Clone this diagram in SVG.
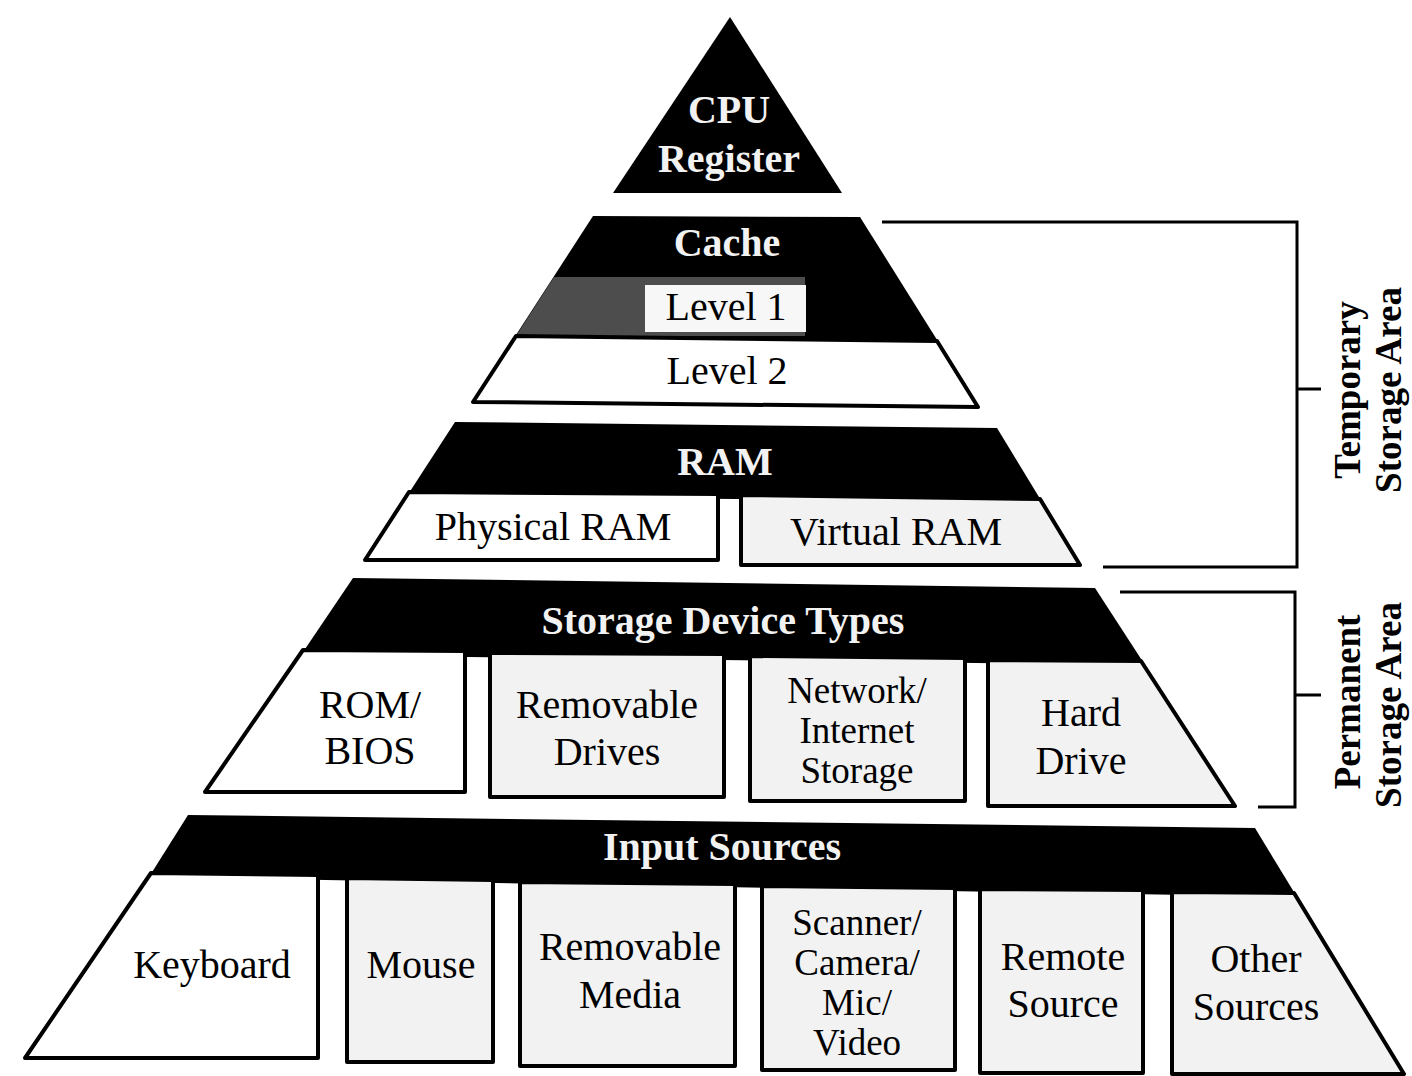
<svg xmlns="http://www.w3.org/2000/svg" width="1412" height="1076" viewBox="0 0 1412 1076">
<style>
.band{fill:#000;}
.box{fill:#fff;stroke:#000;stroke-width:4;stroke-linejoin:round;}
.gbox{fill:#f2f2f2;stroke:#000;stroke-width:4;stroke-linejoin:round;}
.hd{font-family:"Liberation Serif",serif;font-weight:bold;font-size:40px;fill:#f2f2f2;text-anchor:middle;}
.lb{font-family:"Liberation Serif",serif;font-size:40px;fill:#000;text-anchor:middle;}
.lbs{font-family:"Liberation Serif",serif;font-size:37px;fill:#000;text-anchor:middle;}
.side{font-family:"Liberation Serif",serif;font-weight:bold;font-size:37px;fill:#000;text-anchor:middle;}
.br{fill:none;stroke:#000;stroke-width:3;}
</style>
<rect width="1412" height="1076" fill="#fff"/>

<g id="cpu-register">
<polygon class="band" points="730,17 842,193 613,193"/>
<text class="hd" x="729" y="123">CPU</text>
<text class="hd" x="729" y="172">Register</text>
</g>

<g id="cache">
<polygon class="band" points="593,216 860,217 939,343 514,338"/>
<text class="hd" x="727" y="256">Cache</text>
<polygon fill="#4d4d4d" points="554,277 805,277 805,336 516,336"/>
<g id="level-1">
<rect x="645" y="285" width="161" height="47" fill="#f7f7f7"/>
<text class="lb" x="726" y="320">Level 1</text>
</g>
<g id="level-2">
<polygon class="box" points="516,336 937,341 978,407 473,402"/>
<text class="lb" x="727" y="384">Level 2</text>
</g>
</g>

<g id="ram">
<polygon class="band" points="455,422 997,428 1042,502 407,496"/>
<text class="hd" x="725" y="475">RAM</text>
<g id="physical-ram">
<polygon class="box" points="409,492 718,494 718,560 365,560"/>
<text class="lb" x="553" y="540">Physical RAM</text>
</g>
<g id="virtual-ram">
<polygon class="gbox" points="741,495 1040,499 1080,565 741,565"/>
<text class="lb" x="896" y="545">Virtual RAM</text>
</g>
</g>

<g id="storage-device-types">
<polygon class="band" points="353,578 1095,588 1145,665 301,655"/>
<text class="hd" x="723" y="634">Storage Device Types</text>
<g id="rom-bios">
<polygon class="box" points="303,650 465,651 465,792 205,792"/>
<text class="lb" x="370" y="718">ROM/</text>
<text class="lb" x="370" y="764">BIOS</text>
</g>
<g id="removable-drives">
<polygon class="gbox" points="490,653 724,654 724,797 490,797"/>
<text class="lb" x="607" y="718">Removable</text>
<text class="lb" x="607" y="765">Drives</text>
</g>
<g id="network-internet-storage">
<polygon class="gbox" points="750,656 965,658 965,801 750,801"/>
<text class="lbs" x="857" y="703">Network/</text>
<text class="lbs" x="857" y="743">Internet</text>
<text class="lbs" x="857" y="783">Storage</text>
</g>
<g id="hard-drive">
<polygon class="gbox" points="988,660 1141,661 1235,806 988,806"/>
<text class="lb" x="1081" y="726">Hard</text>
<text class="lb" x="1081" y="774">Drive</text>
</g>
</g>

<g id="input-sources">
<polygon class="band" points="188,815 1255,828 1297,897 149,877"/>
<text class="hd" x="722" y="860">Input Sources</text>
<g id="keyboard">
<polygon class="box" points="151,873 318,875 318,1058 25,1058"/>
<text class="lb" x="212" y="978">Keyboard</text>
</g>
<g id="mouse">
<polygon class="gbox" points="347,878 493,880 493,1062 347,1062"/>
<text class="lb" x="421" y="978">Mouse</text>
</g>
<g id="removable-media">
<polygon class="gbox" points="520,882 735,884 735,1066 520,1066"/>
<text class="lb" x="630" y="960">Removable</text>
<text class="lb" x="630" y="1008">Media</text>
</g>
<g id="scanner-camera-mic-video">
<polygon class="gbox" points="762,886 955,888 955,1070 762,1070"/>
<text class="lbs" x="857" y="935">Scanner/</text>
<text class="lbs" x="857" y="975">Camera/</text>
<text class="lbs" x="857" y="1015">Mic/</text>
<text class="lbs" x="857" y="1055">Video</text>
</g>
<g id="remote-source">
<polygon class="gbox" points="980,889 1143,890 1143,1073 980,1073"/>
<text class="lb" x="1063" y="970">Remote</text>
<text class="lb" x="1063" y="1017">Source</text>
</g>
<g id="other-sources">
<polygon class="gbox" points="1172,892 1294,893 1404,1074 1172,1074"/>
<text class="lb" x="1256" y="972">Other</text>
<text class="lb" x="1256" y="1020">Sources</text>
</g>
</g>

<g id="connectors">
<polyline class="br" points="882,222 1297,222 1297,567 1103,567"/>
<line class="br" x1="1297" y1="389" x2="1321" y2="389"/>
<polyline class="br" points="1120,592 1295,592 1295,807 1258,807"/>
<line class="br" x1="1295" y1="695" x2="1321" y2="695"/>
</g>

<g id="temporary-storage-area">
<text class="side" transform="translate(1360,390) rotate(-90)">Temporary</text>
<text class="side" transform="translate(1401,390) rotate(-90)">Storage Area</text>
</g>
<g id="permanent-storage-area">
<text class="side" transform="translate(1360,702) rotate(-90)">Permanent</text>
<text class="side" transform="translate(1401,705) rotate(-90)">Storage Area</text>
</g>
</svg>
